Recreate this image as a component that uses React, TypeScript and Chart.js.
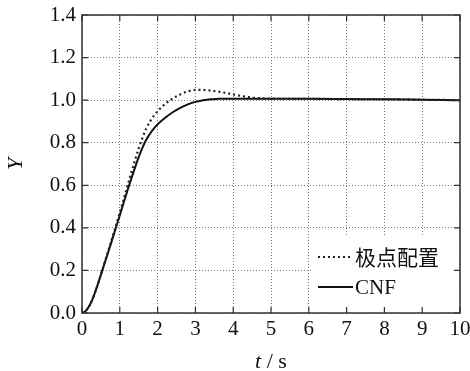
import React, { useEffect, useRef } from "react";
import { Chart, registerables } from "chart.js";

Chart.register(...registerables);

const times = [0, 0.1, 0.2, 0.3, 0.4, 0.5, 0.6, 0.7, 0.8, 0.9, 1.0, 1.1, 1.2, 1.3, 1.4, 1.5, 1.6, 1.7, 1.8, 1.9, 2.0, 2.2, 2.4, 2.6, 2.8, 3.0, 3.2, 3.4, 3.6, 3.8, 4.0, 4.2, 4.4, 4.6, 4.8, 5.0, 6, 7, 8, 9, 10];
const cnfValues = [0, 0.01, 0.035, 0.075, 0.125, 0.18, 0.235, 0.29, 0.346, 0.402, 0.459, 0.517, 0.574, 0.629, 0.682, 0.732, 0.777, 0.814, 0.843, 0.866, 0.886, 0.917, 0.943, 0.964, 0.98, 0.992, 0.999, 1.004, 1.006, 1.007, 1.007, 1.007, 1.007, 1.007, 1.007, 1.006, 1.006, 1.005, 1.004, 1.002, 1.0];
const poleValues = [0, 0.01, 0.035, 0.075, 0.125, 0.18, 0.238, 0.295, 0.353, 0.412, 0.472, 0.533, 0.595, 0.657, 0.717, 0.773, 0.823, 0.867, 0.9, 0.926, 0.948, 0.982, 1.008, 1.027, 1.041, 1.048, 1.048, 1.045, 1.04, 1.034, 1.027, 1.02, 1.014, 1.01, 1.008, 1.007, 1.006, 1.005, 1.004, 1.002, 1.0];
const seriesLabels = ["极点配置", "CNF"];
const xTicks = [0, 1, 2, 3, 4, 5, 6, 7, 8, 9, 10];
const yTicks = [0, 0.2, 0.4, 0.6, 0.8, 1.0, 1.2, 1.4];
const xTitleItalic = "t";
const xTitleRest = " / s";
const yTitle = "Y";

const SERIF = "'Liberation Serif', 'Times New Roman', serif";
const CJK = "'Noto Sans CJK SC', sans-serif";

const framePlugin = {
  id: "frame",
  afterDatasetsDraw(chart: any) {
    const { ctx, chartArea } = chart;
    const { left, right, top, bottom } = chartArea;
    const xs = chart.scales.x;
    const ys = chart.scales.y;
    ctx.save();
    // legend box
    const bx = right - 149;
    const by = bottom - 76;
    ctx.fillStyle = "#ffffff";
    ctx.fillRect(bx, by, right - bx, bottom - by);
    const items = chart.data.datasets;
    items.forEach((ds: any, i: number) => {
      const y = by + 20 + i * 30;
      ctx.strokeStyle = ds.borderColor;
      ctx.lineWidth = ds.borderWidth;
      ctx.setLineDash(ds.borderDash || []);
      ctx.beginPath();
      ctx.moveTo(bx + 7, y);
      ctx.lineTo(bx + 42, y);
      ctx.stroke();
      ctx.setLineDash([]);
      ctx.fillStyle = "#111";
      ctx.textBaseline = "middle";
      ctx.textAlign = "left";
      const isCjk = /[\u4e00-\u9fff]/.test(ds.label);
      ctx.font = isCjk ? `21px ${CJK}` : `21px ${SERIF}`;
      ctx.fillText(ds.label, bx + 44, y + (isCjk ? 0 : 1));
    });
    // frame
    ctx.strokeStyle = "#333";
    ctx.lineWidth = 1.5;
    ctx.strokeRect(left, top, right - left, bottom - top);
    // inward ticks
    ctx.lineWidth = 1.2;
    const tl = 6;
    xTicks.forEach((v) => {
      const px = xs.getPixelForValue(v);
      ctx.beginPath();
      ctx.moveTo(px, bottom);
      ctx.lineTo(px, bottom - tl);
      ctx.moveTo(px, top);
      ctx.lineTo(px, top + tl);
      ctx.stroke();
    });
    yTicks.forEach((v) => {
      const py = ys.getPixelForValue(v);
      ctx.beginPath();
      ctx.moveTo(left, py);
      ctx.lineTo(left + tl, py);
      ctx.moveTo(right, py);
      ctx.lineTo(right - tl, py);
      ctx.stroke();
    });
    // axis titles
    ctx.fillStyle = "#111";
    ctx.textBaseline = "alphabetic";
    ctx.textAlign = "left";
    ctx.font = `italic 22px ${SERIF}`;
    const w1 = ctx.measureText(xTitleItalic).width;
    ctx.font = `22px ${SERIF}`;
    const w2 = ctx.measureText(xTitleRest).width;
    const cx = (left + right) / 2;
    const sx = cx - (w1 + w2) / 2;
    const baseY = 368;
    ctx.font = `italic 22px ${SERIF}`;
    ctx.fillText(xTitleItalic, sx, baseY);
    ctx.font = `22px ${SERIF}`;
    ctx.fillText(xTitleRest, sx + w1, baseY);
    ctx.save();
    ctx.translate(22, (top + bottom) / 2);
    ctx.rotate(-Math.PI / 2);
    ctx.textAlign = "center";
    ctx.font = `italic 22px ${SERIF}`;
    ctx.fillText(yTitle, 0, 0);
    ctx.restore();
    ctx.restore();
  },
};

export default function App() {
  const ref = useRef<HTMLCanvasElement | null>(null);
  useEffect(() => {
    document.body.style.margin = "0";
    const canvas = ref.current;
    if (!canvas) return;
    const chart = new Chart(canvas, {
      type: "line",
      data: {
        datasets: [
          {
            label: seriesLabels[0],
            data: times.map((t, i) => ({ x: t, y: poleValues[i] })),
            borderColor: "#222",
            borderWidth: 2.2,
            borderDash: [2, 3],
            pointRadius: 0,
            cubicInterpolationMode: "monotone",
            fill: false,
          },
          {
            label: seriesLabels[1],
            data: times.map((t, i) => ({ x: t, y: cnfValues[i] })),
            borderColor: "#111",
            borderWidth: 2,
            pointRadius: 0,
            cubicInterpolationMode: "monotone",
            fill: false,
          },
        ],
      },
      options: {
        animation: false,
        responsive: false,
        maintainAspectRatio: false,
        layout: { padding: { top: 15, right: 10, left: 0, bottom: 0 } },
        plugins: { legend: { display: false }, tooltip: { enabled: false } },
        scales: {
          x: {
            type: "linear",
            min: 0,
            max: 10,
            afterBuildTicks: (s: any) => {
              s.ticks = xTicks.map((v) => ({ value: v }));
            },
            ticks: {
              color: "#111",
              font: { family: SERIF, size: 21 },
              padding: 4,
              maxRotation: 0,
              callback: (v: any) => String(v),
            },
            grid: {
              color: "#7a7a7a",
              lineWidth: 1,
              drawTicks: false,
            },
            border: { display: false, dash: [1, 2] },
            afterFit: (s: any) => {
              s.height = 58;
              s.paddingLeft = 0;
              s.paddingRight = 0;
            },
          },
          y: {
            type: "linear",
            min: 0,
            max: 1.4,
            afterBuildTicks: (s: any) => {
              s.ticks = yTicks.map((v) => ({ value: v }));
            },
            ticks: {
              color: "#111",
              font: { family: SERIF, size: 21 },
              padding: 6,
              callback: (v: any) => Number(v).toFixed(1),
            },
            grid: {
              color: "#7a7a7a",
              lineWidth: 1,
              drawTicks: false,
            },
            border: { display: false, dash: [1, 2] },
            afterFit: (s: any) => {
              s.width = 82;
              s.paddingTop = 0;
              s.paddingBottom = 0;
            },
          },
        },
      },
      plugins: [framePlugin],
    } as any);
    return () => chart.destroy();
  }, []);
  return (
    <div style={{ width: 470, height: 371 }}>
      <canvas ref={ref} width={470} height={371} style={{ display: "block", width: 470, height: 371 }} />
    </div>
  );
}
